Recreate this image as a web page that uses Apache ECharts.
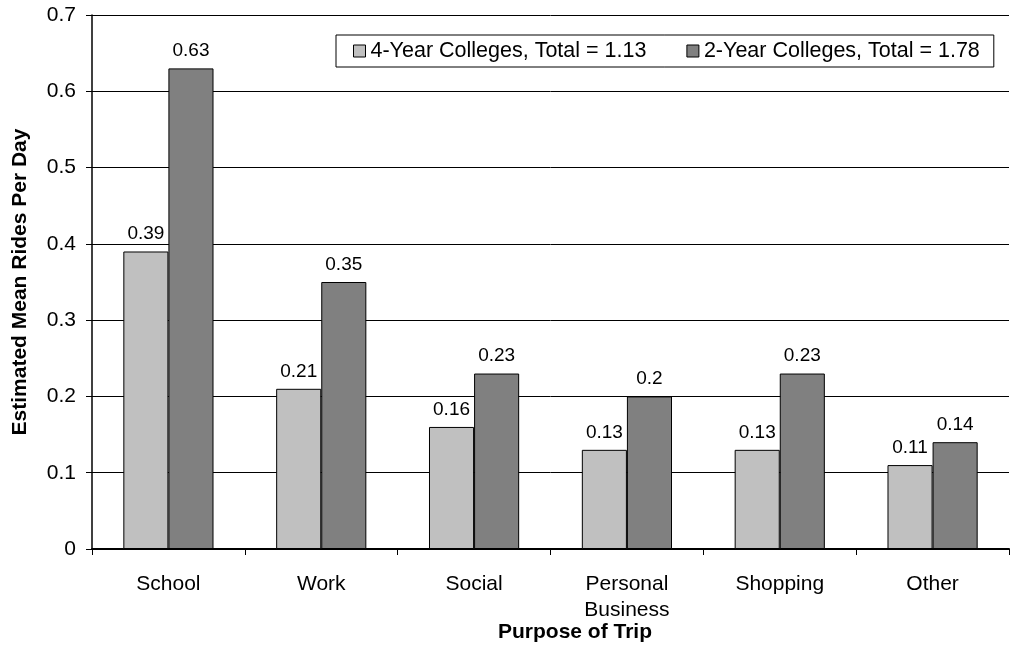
<!DOCTYPE html>
<html>
<head>
<meta charset="utf-8">
<script src="https://cdn.jsdelivr.net/npm/echarts@6/dist/echarts.min.js"></script>
<style>
  html, body { margin: 0; padding: 0; background: #fff; }
  #chart { width: 1010px; height: 666px; }
</style>
</head>
<body>
<div id="chart"></div>
<script>
const categories = ['School', 'Work', 'Social', 'Personal\nBusiness', 'Shopping', 'Other']
const fourYear = [0.39, 0.21, 0.16, 0.13, 0.13, 0.11]
const twoYear = [0.63, 0.35, 0.23, 0.2, 0.23, 0.14]
const seriesNames = ['4-Year Colleges, Total = 1.13', '2-Year Colleges, Total = 1.78']

const font = 'Liberation Sans, Arial, sans-serif'

const chart = echarts.init(document.getElementById('chart'))

function barSeries(name, data, color) {
  return {
    name: name,
    type: 'bar',
    data: data,
    barGap: '0%',
    barCategoryGap: '41%',
    itemStyle: { color: color, borderColor: '#000', borderWidth: 1 },
    label: {
      show: true,
      position: 'top',
      distance: 8,
      color: '#000',
      fontFamily: font,
      fontSize: 19
    }
  }
}

chart.setOption({
  animation: false,
  textStyle: { fontFamily: font },
  grid: { left: 92, right: 1, top: 15, bottom: 117 },
  legend: {
    left: 336,
    top: 35,
    padding: [5, 14, 5, 17],
    borderColor: '#000',
    borderWidth: 1,
    backgroundColor: '#fff',
    itemWidth: 12,
    itemHeight: 12,
    itemGap: 40,
    icon: 'rect',
    itemStyle: { borderColor: '#000', borderWidth: 1 },
    textStyle: { fontSize: 21.5, color: '#000' },
    data: seriesNames
  },
  xAxis: {
    type: 'category',
    data: categories,
    name: 'Purpose of Trip',
    nameLocation: 'middle',
    nameGap: 73,
    nameMoveOverlap: false,
    // title sits a little right of the plot centre in the original
    nameTextStyle: { fontSize: 21, fontWeight: 'bold', color: '#000', padding: [0, 0, 0, 49] },
    axisLine: { lineStyle: { color: '#000', width: 2 } },
    axisTick: { show: true, length: 6, lineStyle: { color: '#000' } },
    axisLabel: { color: '#000', fontSize: 21, margin: 22, lineHeight: 26 }
  },
  yAxis: {
    type: 'value',
    min: 0,
    max: 0.7,
    interval: 0.1,
    name: 'Estimated Mean Rides Per Day',
    nameLocation: 'middle',
    nameGap: 61,
    nameMoveOverlap: false,
    nameTextStyle: { fontSize: 21, fontWeight: 'bold', color: '#000' },
    axisLine: { show: true, lineStyle: { color: '#000', width: 1.5 } },
    axisTick: { show: true, length: 6, lineStyle: { color: '#000' } },
    axisLabel: { color: '#000', fontSize: 21, margin: 16 },
    splitLine: { lineStyle: { color: '#000', width: 1 } }
  },
  series: [
    barSeries(seriesNames[0], fourYear, '#c0c0c0'),
    barSeries(seriesNames[1], twoYear, '#808080')
  ]
})
</script>
</body>
</html>
